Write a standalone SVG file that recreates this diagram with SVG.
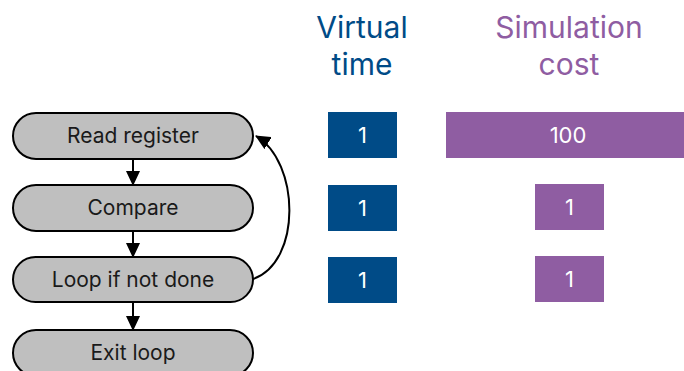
<svg xmlns="http://www.w3.org/2000/svg" width="684" height="371" viewBox="0 0 684 371">
  <defs>
    <marker id="arrow" viewBox="0 0 15 14" refX="14" refY="7" markerWidth="15" markerHeight="14" markerUnits="userSpaceOnUse" orient="auto">
      <path d="M0,0 L15,7 L0,14 Z" fill="#000"/>
    </marker>
    <style>
      .step rect { fill: #BFBFBF; stroke: #000; stroke-width: 2; }
      .step text { font-family: Inter, "Liberation Sans", sans-serif; font-size: 21px; fill: #1a1a1a; text-anchor: middle; }
      .edge { fill: none; stroke: #000; stroke-width: 2; }
      .head { font-family: Inter, "Liberation Sans", sans-serif; font-size: 30px; text-anchor: middle; }
      .val { font-family: Inter, "Liberation Sans", sans-serif; font-size: 22px; fill: #fff; text-anchor: middle; }
      .vt { fill: #004B87; }
      .sc { fill: #8F5DA2; }
    </style>
  </defs>

  <rect width="684" height="371" fill="#fff"/>

  <!-- flow steps -->
  <g id="read-register" class="step">
    <rect x="13" y="113" width="240" height="46" rx="23"/>
    <text x="133" y="143">Read register</text>
  </g>
  <g id="compare" class="step">
    <rect x="13" y="185" width="240" height="46" rx="23"/>
    <text x="133" y="215">Compare</text>
  </g>
  <g id="loop-if-not-done" class="step">
    <rect x="13" y="257" width="240" height="45" rx="22.5"/>
    <text x="133" y="287">Loop if not done</text>
  </g>
  <g id="exit-loop" class="step">
    <rect x="13" y="330" width="240" height="46" rx="23"/>
    <text x="133" y="360">Exit loop</text>
  </g>

  <!-- connectors -->
  <g id="connectors">
    <line class="edge" x1="133" y1="159" x2="133" y2="185" marker-end="url(#arrow)"/>
    <line class="edge" x1="133" y1="231" x2="133" y2="257" marker-end="url(#arrow)"/>
    <line class="edge" x1="133" y1="302" x2="133" y2="330" marker-end="url(#arrow)"/>
    <path class="edge" d="M253,279 C302,262 300,162 256,136" marker-end="url(#arrow)"/>
  </g>

  <!-- column headings -->
  <g id="virtual-time-heading" class="head vt">
    <text x="362" y="38">Virtual</text>
    <text x="362" y="75">time</text>
  </g>
  <g id="simulation-cost-heading" class="head sc">
    <text x="569" y="38">Simulation</text>
    <text x="569" y="75">cost</text>
  </g>

  <!-- virtual time bars -->
  <g id="vt-1">
    <rect class="vt" x="328" y="112" width="69" height="46"/>
    <text class="val" x="362.5" y="143">1</text>
  </g>
  <g id="vt-2">
    <rect class="vt" x="328" y="185" width="69" height="46"/>
    <text class="val" x="362.5" y="216">1</text>
  </g>
  <g id="vt-3">
    <rect class="vt" x="328" y="257" width="69" height="46"/>
    <text class="val" x="362.5" y="288">1</text>
  </g>

  <!-- simulation cost bars -->
  <g id="sc-1">
    <rect class="sc" x="446" y="112" width="238" height="46"/>
    <text class="val" x="568" y="143">100</text>
  </g>
  <g id="sc-2">
    <rect class="sc" x="535" y="184" width="69" height="46"/>
    <text class="val" x="569.5" y="215">1</text>
  </g>
  <g id="sc-3">
    <rect class="sc" x="535" y="256" width="69" height="46"/>
    <text class="val" x="569.5" y="287">1</text>
  </g>
</svg>
